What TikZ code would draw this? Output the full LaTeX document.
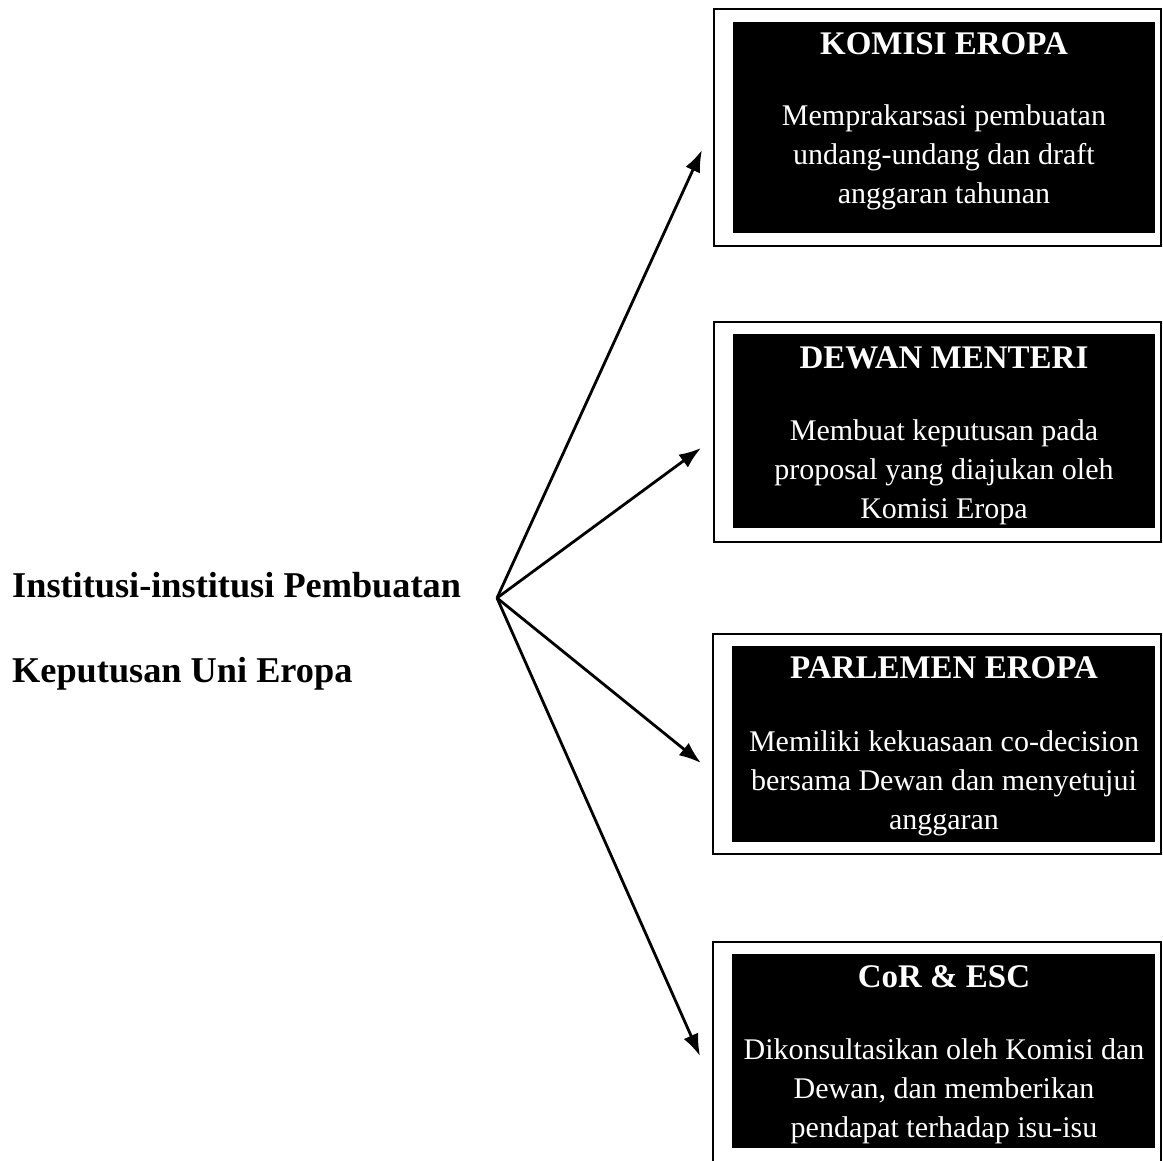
\documentclass[tikz,border=0pt]{standalone}
\usepackage{fontspec}
\setmainfont{Liberation Serif}
\usetikzlibrary{arrows.meta}
\tikzset{
  outerbox/.style={draw=black, line width=2.6pt, fill=white},
  innerbox/.style={fill=black},
  titletext/.style={text=white, anchor=base, inner sep=0pt, font=\fontsize{33}{36}\selectfont\bfseries},
  bodytext/.style={text=white, anchor=base, inner sep=0pt, align=center, font=\fontsize{30}{39}\selectfont},
  lefttext/.style={anchor=base west, inner sep=0pt, font=\fontsize{36.3}{40}\selectfont\bfseries},
  link/.style={line width=2.8pt, -{Latex[length=22pt,width=16pt]}}
}
\begin{document}
\begin{tikzpicture}[x=1pt,y=-1pt]
\useasboundingbox (0,0) rectangle (1163,1161);
\clip (0,0) rectangle (1163,1161);

% left label
\node[lefttext] (l1) at (12,597) {Institusi-institusi Pembuatan};
\node[lefttext] (l2) at (12,682) {Keputusan Uni Eropa};
\coordinate (src) at (497,598);

% box 1
\draw[outerbox] (714,9) rectangle (1161,246);
\fill[innerbox] (733,22) rectangle (1155,233);
\node[titletext] (t1) at (944,55) {KOMISI EROPA};
\node[bodytext] (b1) at (944,204) {Memprakarsasi pembuatan\\undang-undang dan draft\\anggaran tahunan};

% box 2
\draw[outerbox] (714,322) rectangle (1161,542);
\fill[innerbox] (733,334) rectangle (1155,528);
\node[titletext] (t2) at (944,368) {DEWAN MENTERI};
\node[bodytext] (b2) at (944,518) {Membuat keputusan pada\\proposal yang diajukan oleh\\Komisi Eropa};

% box 3
\draw[outerbox] (713,634) rectangle (1161,854);
\fill[innerbox] (732,646) rectangle (1155,842);
\node[titletext] (t3) at (944,678) {PARLEMEN EROPA};
\node[bodytext] (b3) at (944,829) {Memiliki kekuasaan co-decision\\bersama Dewan dan menyetujui\\anggaran};

% box 4
\draw[outerbox] (713,942) rectangle (1161,1180);
\fill[innerbox] (732,954) rectangle (1155,1148);
\node[titletext] (t4) at (944,987) {CoR \& ESC};
\node[bodytext] (b4) at (944,1137) {Dikonsultasikan oleh Komisi dan\\Dewan, dan memberikan\\pendapat terhadap isu-isu};

% arrow tips
\coordinate (p1) at (702,150);
\coordinate (p2) at (701,448);
\coordinate (p3) at (701,763);
\coordinate (p4) at (700,1056);

\draw[link] (src) -- (p1);
\draw[link] (src) -- (p2);
\draw[link] (src) -- (p3);
\draw[link] (src) -- (p4);
\end{tikzpicture}
\end{document}
